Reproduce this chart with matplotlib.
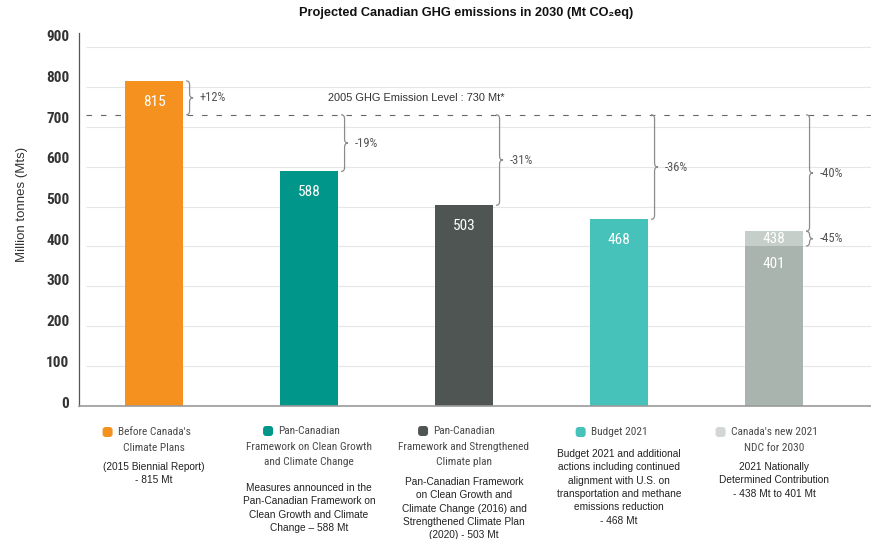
import matplotlib
matplotlib.use("Agg")
import numpy as np
import matplotlib.pyplot as plt
from matplotlib import font_manager
from matplotlib.path import Path
from matplotlib.patches import PathPatch, FancyBboxPatch
from matplotlib.transforms import ScaledTranslation

# Projected 2030 emissions per scenario (Mt CO2eq)
scenarios = ["Before Canada's Climate Plans",
             "Pan-Canadian Framework on Clean Growth and Climate Change",
             "Pan-Canadian Framework and Strengthened Climate plan",
             "Budget 2021",
             "Canada's new 2021 NDC for 2030"]
emissions = [815, 588, 503, 468, 438]
ndc_low = 401
level_2005 = 730

bar_colors = ["#f5921f", "#00968a", "#4f5552", "#47c2ba", "#c5cec9"]
ndc_low_color = "#a8b4ad"
marker_colors = ["#f5921f", "#00968a", "#4f5552", "#47c2ba", "#d2d7d5"]

cat_titles = [["Before Canada's", "Climate Plans"],
              ["Pan-Canadian", "Framework on Clean Growth", "and Climate Change"],
              ["Pan-Canadian", "Framework and Strengthened", "Climate plan"],
              ["Budget 2021"],
              ["Canada's new 2021", "NDC for 2030"]]
cat_notes = [["(2015 Biennial Report)", "- 815 Mt"],
             ["Measures announced in the", "Pan-Canadian Framework on",
              "Clean Growth and Climate", "Change \u2013 588 Mt"],
             ["Pan-Canadian Framework", "on Clean Growth and",
              "Climate Change (2016) and", "Strengthened Climate Plan",
              "(2020) - 503 Mt"],
             ["Budget 2021 and additional", "actions including continued",
              "alignment with U.S. on", "transportation and methane",
              "emissions reduction", "- 468 Mt"],
             ["2021 Nationally", "Determined Contribution",
              "- 438 Mt to 401 Mt"]]


def have(name):
    try:
        font_manager.findfont(font_manager.FontProperties(family=name),
                              fallback_to_default=False)
        return True
    except ValueError:
        return False


NARROW = next((f for f in ["Roboto Condensed", "Liberation Sans Narrow",
                           "Open Sans Condensed", "DejaVu Sans Condensed"]
               if have(f)), "Roboto")
SANS = ["Liberation Sans", "DejaVu Sans"]

W, H = 871, 539
fig = plt.figure(figsize=(W / 100, H / 100), dpi=100)
ax = fig.add_axes([79 / W, (H - 406) / H, (W - 79) / W, (406 - 33) / H])

x = np.arange(len(emissions))
bw = 0.374
ax.bar(x, emissions, width=bw, color=bar_colors, zorder=2)
ax.bar(x[-1], ndc_low, width=bw, color=ndc_low_color, zorder=2)

ax.set_xlim(-0.484, 4.626)
ax.set_ylim(0, 935)
ax.set_xticks([])
yticks = list(range(0, 1000, 100))
ax.set_yticks(yticks)
ax.tick_params(axis="y", length=0, pad=7, labelsize=11, labelcolor="#333333")
for lbl, v in zip(ax.get_yticklabels(), yticks):
    lbl.set_fontfamily(NARROW)
    lbl.set_fontweight("bold")
    dy = (4 + 7 * v / 900) / 100
    lbl.set_transform(lbl.get_transform() + ScaledTranslation(0, dy, fig.dpi_scale_trans))

for s in ["top", "right"]:
    ax.spines[s].set_visible(False)
ax.spines["left"].set_color("#555555")
ax.spines["left"].set_linewidth(0.9)
ax.spines["bottom"].set_color("#9a9a9a")
ax.spines["bottom"].set_linewidth(1.2)

ax.hlines(range(100, 1000, 100), -0.44, 4.626, colors="#e6e6e6", lw=0.8, zorder=0)
ax.hlines(level_2005, -0.44, 4.626, colors="#666666", lw=0.8,
          linestyles=(0, (5, 8)), zorder=1)
ax.text(1.69, 772, f"2005 GHG Emission Level : {level_2005} Mt*", ha="center",
        va="center", fontsize=7.9, color="#333333", family=SANS)

# values inside the bars
vkw = dict(ha="center", va="center", color="white", fontsize=11, family=NARROW)
for i in range(4):
    ax.annotate(str(emissions[i]), (x[i], emissions[i]), xytext=(0, -15),
                textcoords="offset points", **vkw)
ax.text(x[-1], (emissions[-1] + ndc_low) / 2, str(emissions[-1]), **vkw)
ax.annotate(str(ndc_low), (x[-1], ndc_low), xytext=(0, -13),
            textcoords="offset points", **vkw)


def brace(x0, y0, y1, w=0.045, r=10, color="#8c8c8c"):
    lo, hi = min(y0, y1), max(y0, y1)
    r = min(r, (hi - lo) / 4)
    xm = x0 + w / 2
    ym = (lo + hi) / 2
    verts = [(x0, lo), (xm, lo), (xm, lo + r),
             (xm, ym - r), (xm, ym), (x0 + w, ym),
             (xm, ym), (xm, ym + r),
             (xm, hi - r), (xm, hi), (x0, hi)]
    codes = [Path.MOVETO, Path.CURVE3, Path.CURVE3, Path.LINETO,
             Path.CURVE3, Path.CURVE3, Path.CURVE3, Path.CURVE3,
             Path.LINETO, Path.CURVE3, Path.CURVE3]
    ax.add_patch(PathPatch(Path(verts, codes), fill=False, ec=color, lw=0.9,
                           zorder=3))
    return x0 + w, ym


pairs = [(i, emissions[i], level_2005) for i in range(5)] + [(4, ndc_low, emissions[-1])]
for i, v, ref in pairs:
    xe, ym = brace(x[i] + bw / 2 + 0.02, v, ref)
    pct = round((v / level_2005 - 1) * 100)
    ax.text(xe + 0.04, ym, f"{pct:+d}%", ha="left", va="center",
            fontsize=9, color="#555555", family=NARROW)

fig.text(466 / W, 1 - 13 / H, "Projected Canadian GHG emissions in 2030 (Mt CO\u2082eq)",
         ha="center", va="center", fontsize=9.2, fontweight="bold",
         family=SANS, color="#111111")
fig.text(22 / W, 1 - 204 / H, "Million tonnes (Mts)", rotation=90, ha="center",
         va="center", fontsize=9.5, color="#333333", family=SANS)

# category captions under the axis
title_y = [[432, 448], [431, 447, 462], [431, 447, 462], [432], [432, 448]]
note_y0 = [467, 488, 482, 454, 467]
first_lines = []
for i in range(5):
    xf = ax.transData.transform((x[i], 0))[0] / W
    for k, line in enumerate(cat_titles[i]):
        t = fig.text(xf, 1 - title_y[i][k] / H, line, ha="center", va="center",
                     fontsize=8.2, color="#4a4a4a", family=NARROW)
        if k == 0:
            first_lines.append(t)
    for k, line in enumerate(cat_notes[i]):
        fig.text(xf, 1 - (note_y0[i] + 13.3 * k) / H, line, ha="center",
                 va="center", fontsize=7.3, color="#222222", family=SANS)

fig.canvas.draw()
r = fig.canvas.get_renderer()
for t, c in zip(first_lines, marker_colors):
    bb = t.get_window_extent(r)
    cy = (bb.y0 + bb.y1) / 2
    fig.patches.append(FancyBboxPatch(((bb.x0 - 15) / 100, (cy - 5) / 100), 0.10, 0.10,
                                      boxstyle="round,pad=0,rounding_size=0.03",
                                      fc=c, ec="none",
                                      transform=fig.dpi_scale_trans, figure=fig))

fig.savefig("out.png", dpi=100)
